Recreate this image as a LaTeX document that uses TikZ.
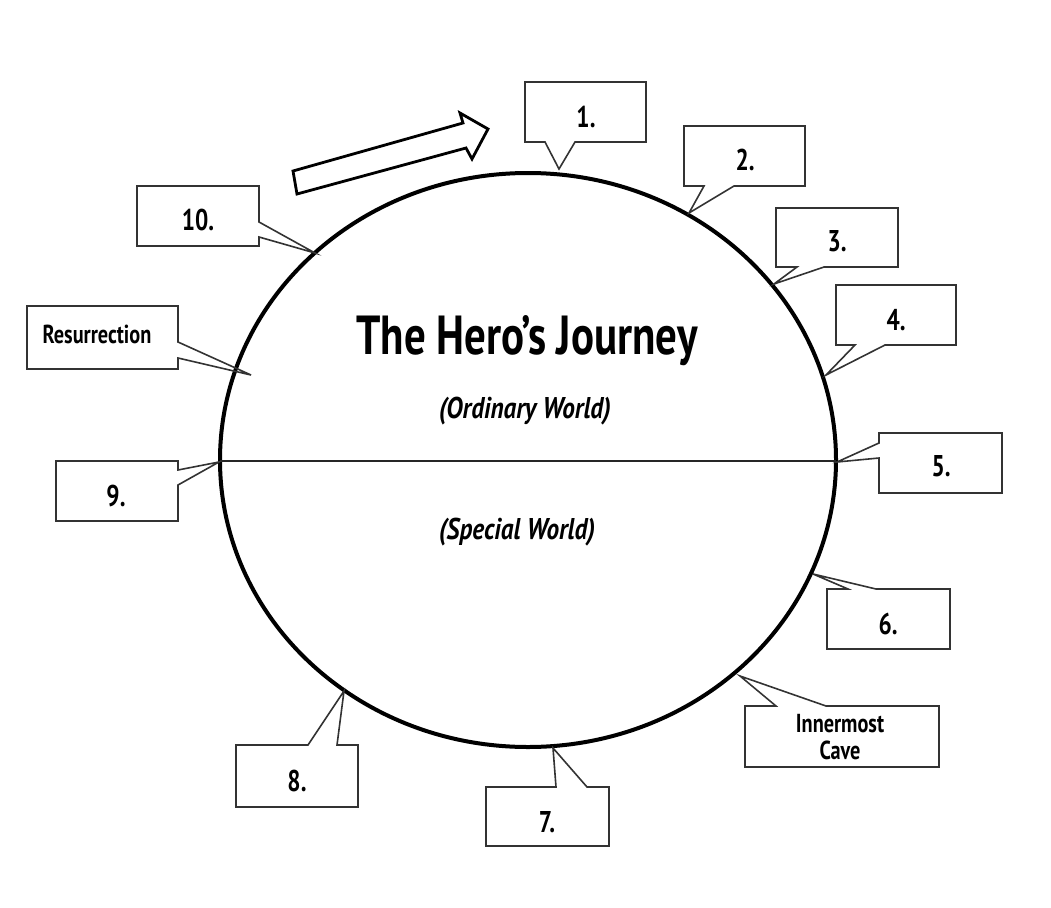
\documentclass[tikz,border=0pt]{standalone}
\usepackage{fontspec}
\setmainfont{PT Sans}
\newfontfamily\condfont[FakeStretch=0.78]{PT Sans}
\newfontfamily\subfont[FakeStretch=0.84]{PT Sans}
\begin{document}
\begin{tikzpicture}[x=1pt,y=-1pt,
  callout/.style={draw=black!80, line width=1.6pt, line join=miter},
  lbl/.style={font=\condfont\bfseries\fontsize{30}{32}\selectfont, inner sep=0pt},
  small/.style={font=\condfont\bfseries\fontsize{26}{27}\selectfont, inner sep=0pt},
  sub/.style={font=\subfont\bfseries\itshape\fontsize{30}{32}\selectfont, inner sep=0pt}]
\useasboundingbox (0,0) rectangle (1051,907);
% circle and divider
\draw[line width=4pt] (528,460) ellipse [x radius=308, y radius=287];
\coordinate (wl) at (220,461);
\coordinate (wr) at (836,461);
\draw[line width=2.6pt, black!85] (wl) -- (wr);
% arrow
\draw[line width=2.8pt, line join=miter] (293,171) -- (463,123) -- (460,113) -- (488,129) -- (472,159) -- (466,148) -- (297,194) -- cycle;
% title
\node[font=\condfont\bfseries\fontsize{55}{60}\selectfont, inner sep=0pt] (title) at (527,341) {The Hero’s Journey};
\node[sub] (ord) at (525,411) {(Ordinary World)};
\node[sub] (spec) at (517,532) {(Special World)};
% callouts
\draw[callout] (525,82)--(646,82)--(646,142)--(575,142)--(559,169)--(545,142)--(525,142)--cycle;
\node[lbl] (t1) at (586,117) {1.};
\draw[callout] (684,126)--(805,126)--(805,186)--(734,186)--(689,213)--(704,186)--(684,186)--cycle;
\node[lbl] (t2) at (745,160) {2.};
\draw[callout] (776,208)--(898,208)--(898,267)--(824,267)--(774,284)--(797,267)--(776,267)--cycle;
\node[lbl] (t3) at (837,241) {3.};
\draw[callout] (836,285)--(956,285)--(956,345)--(885,345)--(826,375)--(855,345)--(836,345)--cycle;
\node[lbl] (t4) at (896,320) {4.};
\draw[callout] (879,433)--(1002,433)--(1002,493)--(879,493)--(879,458)--(837,462)--(879,443)--cycle;
\node[lbl] (t5) at (941,466) {5.};
\draw[callout] (827,589)--(848,589)--(813,574)--(876,589)--(950,589)--(950,649)--(827,649)--cycle;
\node[lbl] (t6) at (888,624) {6.};
\draw[callout] (745,706)--(776,706)--(740,676)--(826,706)--(939,706)--(939,767)--(745,767)--cycle;
\node[small, align=center] (tc) at (840,737) {Innermost\\Cave};
\draw[callout] (486,787)--(556,787)--(553,748)--(587,787)--(609,787)--(609,846)--(486,846)--cycle;
\node[lbl] (t7) at (547,822) {7.};
\draw[callout] (236,745)--(308,745)--(344,691)--(337,745)--(358,745)--(358,807)--(236,807)--cycle;
\node[lbl] (t8) at (297,781) {8.};
\draw[callout] (56,461)--(178,461)--(178,470)--(219,462)--(178,485)--(178,521)--(56,521)--cycle;
\node[lbl] (t9) at (116,496) {9.};
\draw[callout] (27,306)--(178,306)--(178,342)--(251,375)--(178,358)--(178,369)--(27,369)--cycle;
\node[small] (tr) at (97,334) {Resurrection};
\draw[callout] (137,186)--(259,186)--(259,222)--(315,253)--(259,237)--(259,246)--(137,246)--cycle;
\node[lbl] (t10) at (198,220) {10.};
\end{tikzpicture}
\end{document}
